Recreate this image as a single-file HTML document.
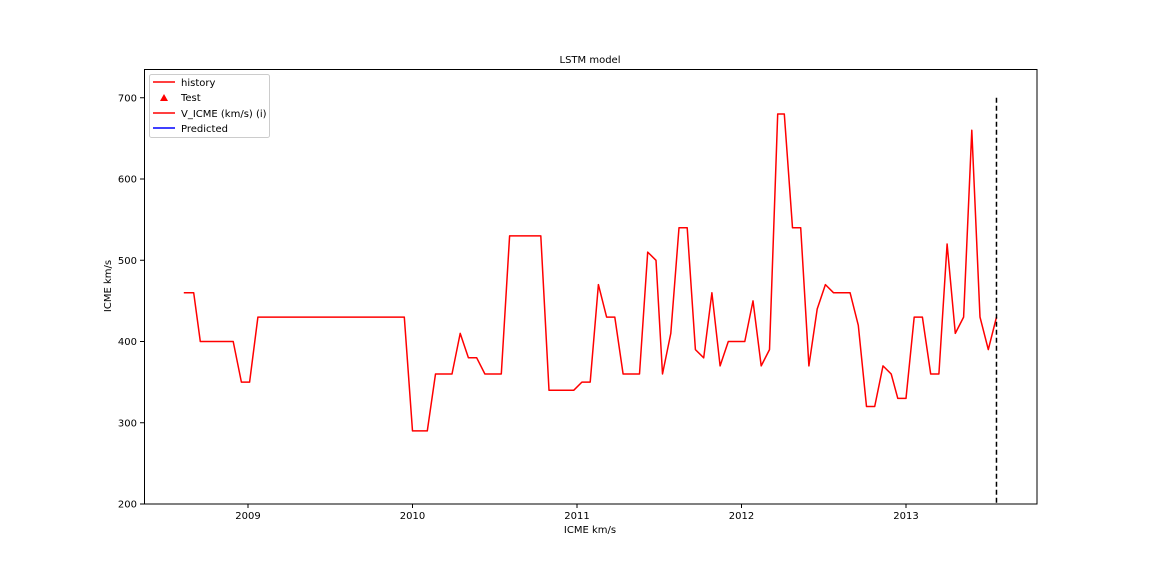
<!DOCTYPE html>
<html><head><meta charset="utf-8"><style>
html,body{margin:0;padding:0;background:#fff;}
svg{display:block;font-family:"DejaVu Sans","Liberation Sans",sans-serif;}
</style></head><body>
<svg id="chart" width="1152" height="576">
<rect width="1152" height="576" fill="#fff"/>
<text x="590" y="63" font-size="10" text-anchor="middle">LSTM model</text>
<text x="590" y="533" font-size="10" text-anchor="middle">ICME km/s</text>
<text transform="translate(111,286) rotate(-90)" font-size="10" text-anchor="middle">ICME km/s</text>
<g id="ticks"></g>
<g id="plot"></g>
<rect x="144.5" y="69.5" width="892.5" height="434.5" fill="none" stroke="#000" stroke-width="1"/>
<g>
<rect x="149.5" y="74.5" width="120" height="63" rx="2" fill="#fff" fill-opacity="0.8" stroke="#ccc"/>
<line x1="153" y1="82" x2="175" y2="82" stroke="#f00" stroke-width="1.5"/>
<text x="181" y="86" font-size="10">history</text>
<polygon points="160,101 164,94 168,101" fill="#f00"/>
<text x="181" y="101" font-size="10">Test</text>
<line x1="153" y1="113" x2="175" y2="113" stroke="#f00" stroke-width="1.5"/>
<text x="181" y="117" font-size="10">V_ICME (km/s) (i)</text>
<line x1="153" y1="128" x2="175" y2="128" stroke="#00f" stroke-width="1.5"/>
<text x="181" y="132" font-size="10">Predicted</text>
</g>
</svg>
<script>
const dates=[2008.61,2008.67,2008.71,2008.91,2008.96,2009.01,2009.06,2009.95,2010.00,2010.09,2010.14,2010.24,2010.29,2010.34,2010.39,2010.44,2010.54,2010.59,2010.78,2010.83,2010.98,2011.03,2011.08,2011.13,2011.18,2011.23,2011.28,2011.38,2011.43,2011.48,2011.52,2011.57,2011.62,2011.67,2011.72,2011.77,2011.82,2011.87,2011.92,2012.02,2012.07,2012.12,2012.17,2012.22,2012.26,2012.31,2012.36,2012.41,2012.46,2012.51,2012.56,2012.66,2012.71,2012.76,2012.81,2012.86,2012.91,2012.95,2013.00,2013.05,2013.10,2013.15,2013.20,2013.25,2013.30,2013.35,2013.40,2013.45,2013.50,2013.55];
const speeds=[460,460,400,400,350,350,430,430,290,290,360,360,410,380,380,360,360,530,530,340,340,350,350,470,430,430,360,360,510,500,360,410,540,540,390,380,460,370,400,400,450,370,390,680,680,540,540,370,440,470,460,460,420,320,320,370,360,330,330,430,430,360,360,520,410,430,660,430,390,430];
const xTicks=[2009,2010,2011,2012,2013];
const yTicks=[200,300,400,500,600,700];
const splitDate=2013.55;
const splitRange=[200,700];
const NS="http://www.w3.org/2000/svg";
function xs(v){return 248+(v-2009)*164.5;}
function ys(v){return 504-(v-200)*0.8125;}
const tg=document.getElementById('ticks');
xTicks.forEach(t=>{
  const l=document.createElementNS(NS,'line');
  l.setAttribute('x1',xs(t));l.setAttribute('x2',xs(t));l.setAttribute('y1',504);l.setAttribute('y2',508);l.setAttribute('stroke','#000');
  
  
  tg.appendChild(l);
  const tx=document.createElementNS(NS,'text');
  tx.setAttribute('x',xs(t));tx.setAttribute('y',519);tx.setAttribute('font-size','10');tx.setAttribute('text-anchor','middle');tx.textContent=t;
  
  
  tg.appendChild(tx);
});
yTicks.forEach(t=>{
  const l=document.createElementNS(NS,'line');
  l.setAttribute('x1',140);l.setAttribute('x2',144);l.setAttribute('y1',ys(t));l.setAttribute('y2',ys(t));l.setAttribute('stroke','#000');
  
  
  tg.appendChild(l);
  const tx=document.createElementNS(NS,'text');
  tx.setAttribute('x',137);tx.setAttribute('y',ys(t)+3.5);tx.setAttribute('font-size','10');tx.setAttribute('text-anchor','end');tx.textContent=t;
  
  
  tg.appendChild(tx);
});
const pg=document.getElementById('plot');
const p=document.createElementNS(NS,'polyline');
p.setAttribute('points',dates.map((d,i)=>xs(d).toFixed(1)+','+ys(speeds[i]).toFixed(1)).join(' '));
p.setAttribute('fill','none');p.setAttribute('stroke','#f00');p.setAttribute('stroke-width','1.5');p.setAttribute('stroke-linejoin','round');


pg.appendChild(p);
const dl=document.createElementNS(NS,'line');
dl.setAttribute('x1',xs(splitDate));dl.setAttribute('x2',xs(splitDate));dl.setAttribute('y1',ys(splitRange[1]));dl.setAttribute('y2',ys(splitRange[0]));
dl.setAttribute('stroke','#000');dl.setAttribute('stroke-width','1.5');dl.setAttribute('stroke-dasharray','5,3');


pg.appendChild(dl);
</script>
</body></html>
